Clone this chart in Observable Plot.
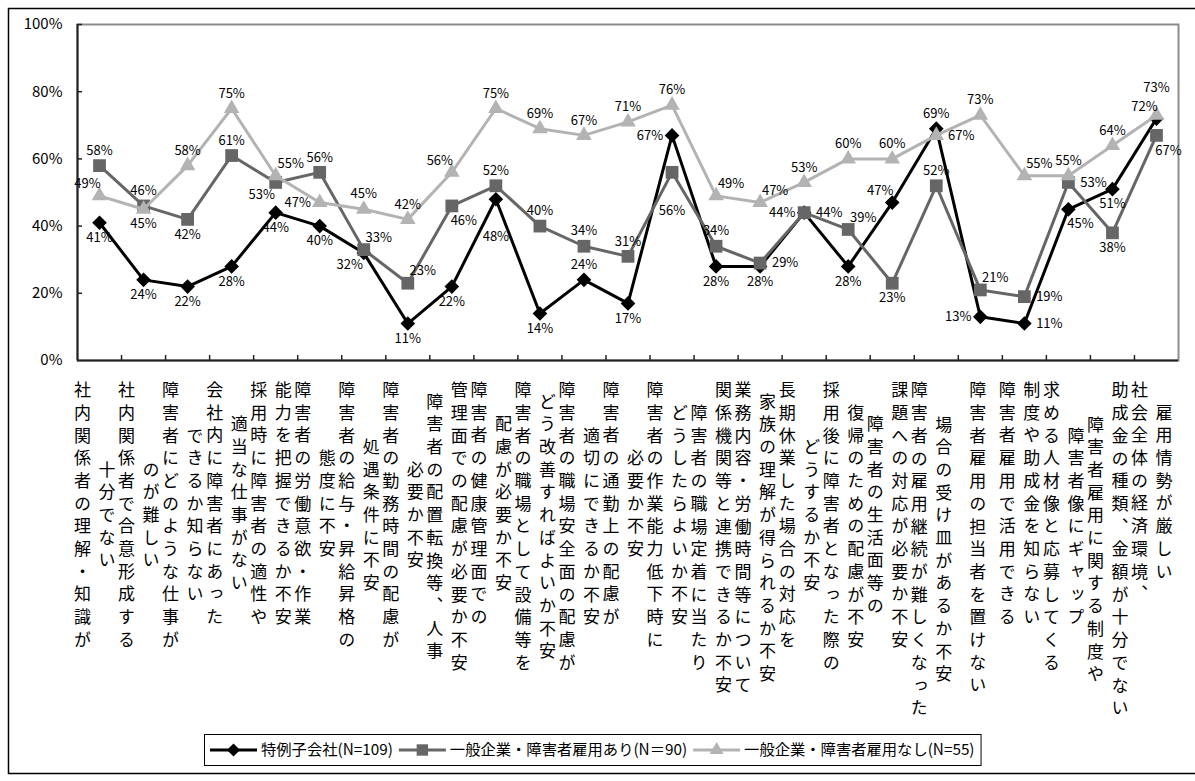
<!DOCTYPE html>
<html><head><meta charset="utf-8">
<script src="https://cdn.jsdelivr.net/npm/d3@7"></script>
<script src="https://cdn.jsdelivr.net/npm/@observablehq/plot@0.6"></script>
<style>
html,body{margin:0;padding:0;background:#fff;}
#chart{position:relative;width:1195px;height:781px;overflow:hidden;}
text.vcol{writing-mode:vertical-rl;letter-spacing:5.7px;}
</style></head><body><div id="chart"></div>
<script>
// ---- data ----
const categoryLines = [
  ["社内関係者の理解・知識が", "十分でない"],
  ["社内関係者で合意形成する", "のが難しい"],
  ["障害者にどのような仕事が", "できるか知らない"],
  ["会社内に障害者にあった", "適当な仕事がない"],
  ["採用時に障害者の適性や", "能力を把握できるか不安"],
  ["障害者の労働意欲・作業", "態度に不安"],
  ["障害者の給与・昇給昇格の", "処遇条件に不安"],
  ["障害者の勤務時間の配慮が", "必要か不安"],
  ["障害者の配置転換等、人事", "管理面での配慮が必要か不安"],
  ["障害者の健康管理面での", "配慮が必要か不安"],
  ["障害者の職場として設備等を", "どう改善すればよいか不安"],
  ["障害者の職場安全面の配慮が", "適切にできるか不安"],
  ["障害者の通勤上の配慮が", "必要か不安"],
  ["障害者の作業能力低下時に", "どうしたらよいか不安"],
  ["障害者の職場定着に当たり", "関係機関等と連携できるか不安"],
  ["業務内容・労働時間等について", "家族の理解が得られるか不安"],
  ["長期休業した場合の対応を", "どうするか不安"],
  ["採用後に障害者となった際の", "復帰のための配慮が不安"],
  ["障害者の生活面等の", "課題への対応が必要か不安"],
  ["障害者の雇用継続が難しくなった", "場合の受け皿があるか不安"],
  ["障害者雇用の担当者を置けない"],
  ["障害者雇用で活用できる", "制度や助成金を知らない"],
  ["求める人材像と応募してくる", "障害者像にギャップ"],
  ["障害者雇用に関する制度や", "助成金の種類、金額が十分でない"],
  ["社会全体の経済環境、", "雇用情勢が厳しい"]
];
const categories = categoryLines.map(l => l.join(""));
const seriesNames = ["特例子会社(N=109)", "一般企業・障害者雇用あり(N＝90)", "一般企業・障害者雇用なし(N=55)"];
const tokureiValues = [41,24,22,28,44,40,32,11,22,48,14,24,17,67,28,28,44,28,47,69,13,11,45,51,72];
const ariValues     = [58,46,42,61,53,56,33,23,46,52,40,34,31,56,34,29,44,39,23,52,21,19,53,38,67];
const nashiValues   = [49,45,58,75,55,47,45,42,56,75,69,67,71,76,49,47,53,60,60,67,73,55,55,64,73];
const yTicks = [0,20,40,60,80,100];

// label placement codes (style only)
const tokureiLabelPos = ["b","b","b","b","b","b","bl","b","b","B","b","t","b","l","b","b","l","b","tl","t","l","r","br","b","tl"];
const ariLabelPos     = ["t","t","b","t","bl","t","tr","tr","br","t","t","t","t","B","t","r","r","tr","b","t","tr","r","r","b","br"];
const nashiLabelPos   = ["tl","b","t","t","tr","l","t","t","tl","t","t","t","t","t","tr","tr","t","t","t","r","t","tr","t","t","T"];

// ---- layout / style ----
const W = 1195, H = 781, mL = 77, mR = 17, mT = 24, mB = 421;
const pxX = (W - mL - mR) / categories.length;
const pxY = (H - mT - mB) / 100;
const FONT = '"Noto Sans CJK JP", "Noto Sans", sans-serif';
const offsets = {t:[0,-15], T:[0,-27], b:[0,15], B:[0,38], l:[-22,0], r:[25,0], tl:[-12,-12], tr:[15,-12], bl:[-14,12], br:[12,15]};
const series = [
  {name: seriesNames[0], values: tokureiValues, pos: tokureiLabelPos, color: "#000000", symbol: "diamond2", r: 6.6},
  {name: seriesNames[1], values: ariValues, pos: ariLabelPos, color: "#666666", symbol: "square", r: 7.2},
  {name: seriesNames[2], values: nashiValues, pos: nashiLabelPos, color: "#b3b3b3", symbol: "triangle", r: 5.8}
];
const rows = series.flatMap(s => categories.map((c, i) => ({series: s.name, cat: c, value: s.values[i], pos: s.pos[i]})));
const xOf = d => categories.indexOf(d.cat);

const marks = [
  Plot.frame({stroke: "#8c8c8c", strokeWidth: 2}),
  Plot.ruleX([-0.5], {stroke: "#222", strokeWidth: 2}),
  Plot.ruleY([0], {stroke: "#222", strokeWidth: 2}),
  Plot.ruleX(d3.range(1, categories.length).map(i => i - 0.5), {y1: 0, y2: 5 / pxY, stroke: "#222", strokeWidth: 1.5}),
  Plot.ruleY(yTicks.slice(1), {x1: -0.5, x2: -0.5 + 5 / pxX, stroke: "#222", strokeWidth: 1.5}),
  Plot.axisY(yTicks, {tickSize: 0, tickPadding: 15, tickFormat: d => d + "%", fontSize: 15, fill: "#000", label: null})
];
for (const s of series) {
  const data = rows.filter(d => d.series === s.name);
  marks.push(Plot.line(data, {x: xOf, y: "value", stroke: s.color, strokeWidth: 3}));
  marks.push(Plot.dot(data, {x: xOf, y: "value", symbol: s.symbol, r: s.r, fill: s.color, stroke: "none"}));
}
for (const s of series) {
  for (const code of Object.keys(offsets)) {
    const data = rows.filter(d => d.series === s.name && d.pos === code);
    if (!data.length) continue;
    marks.push(Plot.text(data, {x: xOf, y: "value", text: d => d.value + "%", dx: offsets[code][0], dy: offsets[code][1], fontSize: 13, fill: "#000"}));
  }
}

const chart = Plot.plot({
  width: W, height: H, marginLeft: mL, marginRight: mR, marginTop: mT, marginBottom: mB,
  x: {type: "linear", domain: [-0.5, categories.length - 0.5], axis: null},
  y: {domain: [0, 100], axis: null},
  style: {fontFamily: FONT, background: "#fff", color: "#000", overflow: "visible"},
  marks
});
document.getElementById("chart").appendChild(chart);

const svg = d3.select(chart);
const xs = chart.scale("x");

// ---- category labels: vertical columns, written left to right ----
const pitch = 22.9, labelTop = 380;
const cl = svg.append("g").attr("font-family", FONT).attr("font-size", 17).attr("fill", "#000").attr("text-anchor", "middle");
categoryLines.forEach((lines, i) => {
  const maxLen = d3.max(lines, l => l.length);
  const cy = labelTop + maxLen * pitch / 2;
  const offs = lines.length === 1 ? [-2] : [-16.5, 8];
  lines.forEach((text, j) => {
    cl.append("text").attr("class", "vcol").attr("writing-mode", "tb")
      .attr("x", xs.apply(i) + offs[j]).attr("y", cy).text(text);
  });
});

// ---- outer border and legend ----
svg.append("rect").attr("x", 8.5).attr("y", 8.5).attr("width", 1200).attr("height", 765)
  .attr("fill", "none").attr("stroke", "#000").attr("stroke-width", 1.5);

const lg = svg.append("g").attr("font-family", FONT).attr("font-size", 15.3).attr("text-anchor", "start");
const box = lg.append("rect").attr("y", 734.5).attr("height", 31).attr("fill", "#fff").attr("stroke", "#000").attr("stroke-width", 1);
const ly = 750;
let cx = 210;
for (const s of series) {
  lg.append("line").attr("x1", cx).attr("x2", cx + 47).attr("y1", ly).attr("y2", ly).attr("stroke", s.color).attr("stroke-width", 3);
  const sym = {diamond2: d3.symbolDiamond2, square: d3.symbolSquare, triangle: d3.symbolTriangle}[s.symbol];
  lg.append("path").attr("d", d3.symbol(sym, Math.PI * s.r * s.r * 0.8)()).attr("transform", `translate(${cx + 23.5},${ly})`).attr("fill", s.color);
  const t = lg.append("text").attr("x", cx + 51).attr("y", ly).attr("dy", "0.35em").attr("fill", "#000").text(s.name);
  cx += 51 + t.node().getComputedTextLength() + 6;
}
box.attr("x", 204.5).attr("width", cx - 204);
</script></body></html>
